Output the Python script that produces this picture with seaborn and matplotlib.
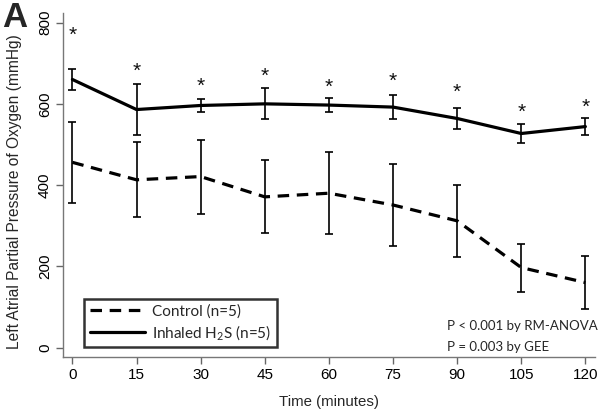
import numpy as np
import pandas as pd
import matplotlib
matplotlib.use("Agg")
import matplotlib.pyplot as plt
import seaborn as sns
from matplotlib.lines import Line2D

# Data
time_min = [0, 15, 30, 45, 60, 75, 90, 105, 120]
h2s_mean = [660, 586, 596, 600, 597, 592, 564, 527, 544]
h2s_err = [25, 63, 15, 38, 18, 29, 27, 23, 21]
control_mean = [456, 413, 421, 371, 380, 351, 312, 197, 160]
control_err = [100, 92, 91, 90, 101, 100, 89, 59, 65]
star_y = [786, 698, 660, 686, 658, 672, 646, 595, 609]

x_ticks = [0, 15, 30, 45, 60, 75, 90, 105, 120]
y_ticks = [0, 200, 400, 600, 800]

labels = ["Control (n=5)", "Inhaled H$_2$S (n=5)"]
df = pd.DataFrame({
    "time": time_min * 2,
    "po2": control_mean + h2s_mean,
    "group": [labels[0]] * 9 + [labels[1]] * 9,
})

sns.set_style("ticks")
plt.rcParams["font.family"] = ["Liberation Sans", "DejaVu Sans"]
plt.rcParams["mathtext.fontset"] = "custom"
plt.rcParams["mathtext.rm"] = "Lato"
plt.rcParams["mathtext.it"] = "Lato:italic"
plt.rcParams["mathtext.bf"] = "Lato:bold"

fig = plt.figure(figsize=(6, 4.15), dpi=100)
ax = fig.add_axes([0.105, 0.14, 0.887, 0.829])

dash = (3.6, 2.4)
sns.lineplot(data=df, x="time", y="po2", hue="group", style="group",
             palette=["black", "black"],
             dashes={labels[0]: dash, labels[1]: ""},
             linewidth=2.3, legend=False, ax=ax)

# error bars
ax.errorbar(time_min, control_mean, yerr=control_err, fmt="none", ecolor="black",
            elinewidth=1.2, capsize=2.8, capthick=1.2)
ax.errorbar(time_min, h2s_mean, yerr=h2s_err, fmt="none", ecolor="black",
            elinewidth=1.2, capsize=2.8, capthick=1.2)

# significance stars
for t, y in zip(time_min, star_y):
    ax.annotate("*", (t, y), xytext=(0, -5), textcoords="offset points",
                ha="center", va="center", fontsize=15, color="#111111")

ax.set_xlim(-2.2, 122.3)
ax.set_ylim(-23, 824)
ax.set_xticks(x_ticks)
ax.set_yticks(y_ticks)
ax.tick_params(axis="both", colors="#666666", labelcolor="black", labelsize=11,
               length=5, width=1, pad=3)
plt.setp(ax.get_yticklabels(), rotation=90, va="center")

for side in ["top", "right"]:
    ax.spines[side].set_visible(False)
for side in ["left", "bottom"]:
    ax.spines[side].set_color("#777777")
    ax.spines[side].set_linewidth(1)

ax.set_xlabel("Time (minutes)", fontsize=10.8, labelpad=9)
ax.set_ylabel("Left Atrial Partial Pressure of Oxygen (mmHg)", fontsize=11.2)
ax.yaxis.set_label_coords(-0.077, 0.48)

handles = [Line2D([], [], color="black", lw=2.3, dashes=dash),
           Line2D([], [], color="black", lw=2.3)]
leg = ax.legend(handles, labels,
                loc="lower left", bbox_to_anchor=(0.04, 0.028), borderaxespad=0,
                frameon=True, fancybox=False, edgecolor="black",
                prop={"family": "Lato", "size": 11}, handlelength=3.6,
                handletextpad=0.5, borderpad=0.35, labelspacing=0.28)
leg.get_frame().set_linewidth(1.8)

ax.text(0.721, 0.072, "P < 0.001 by RM-ANOVA", transform=ax.transAxes,
        family="Lato", fontsize=9.5, ha="left", va="bottom")
ax.text(0.721, 0.012, "P = 0.003 by GEE", transform=ax.transAxes,
        family="Lato", fontsize=9.5, ha="left", va="bottom")

fig.text(0.003, 0.997, "A", fontsize=25, fontweight="bold", ha="left", va="top")

plt.savefig("out.png", dpi=100)
